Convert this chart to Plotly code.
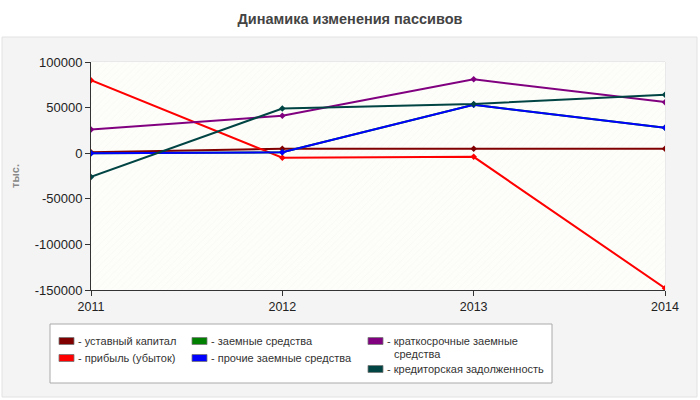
import plotly.graph_objects as go

years = [2011, 2012, 2013, 2014]

names = [
    "- уставный капитал",
    "- прибыль (убыток)",
    "- заемные средства",
    "- прочие заемные средства",
    "- краткосрочные заемные",
    "- кредиторская задолженность",
]
colors = ["#800000", "#ff0000", "#008000", "#0000ff", "#800080", "#004444"]
wrap_text = "средства"  # second line of "краткосрочные заемные средства"

ustavny = [1000, 5000, 5000, 5000]
pribyl = [80000, -5000, -4000, -148000]
zaemnye = [0, 1000, 53000, 28000]
prochie = [0, 1000, 53000, 28000]
kratkosrochnye = [26000, 41000, 81000, 56000]
kreditorskaya = [-26000, 49000, 54000, 64000]
series = [ustavny, pribyl, zaemnye, prochie, kratkosrochnye, kreditorskaya]

y_ticks = [-150000, -100000, -50000, 0, 50000, 100000]
y_ticktext = ["-150000", "-100000", "-50000", "0", "50000", "100000"]
y_min, y_max = -150000, 100000

W, H = 700, 400
L, R, T, B = 91, 35, 62, 110
PW, PH = W - L - R, H - T - B


def px(x):
    return (x - L) / PW


def py(y):
    return (H - B - y) / PH


fig = go.Figure()

# hatched background of the plot area
fig.add_trace(go.Scatter(
    x=[years[0], years[-1], years[-1], years[0], years[0]],
    y=[y_min, y_min, y_max, y_max, y_min],
    fill="toself", mode="none", hoverinfo="skip", showlegend=False,
    fillcolor="#fdfdf9",
    fillpattern=dict(shape="/", fgcolor="#ececec", bgcolor="#fdfdf9", size=5, solidity=0.12),
))

for name, color, vals in zip(names, colors, series):
    full = name + (" " + wrap_text if name.startswith("- краткосрочные") else "")
    fig.add_trace(go.Scatter(
        x=years, y=vals, mode="lines+markers", name=full, showlegend=False,
        line=dict(color=color, width=2), marker=dict(color=color, size=5, symbol="diamond"),
    ))

shapes = [
    # grey panel
    dict(type="rect", xref="paper", yref="paper", x0=px(2), x1=px(697), y0=py(397), y1=py(37),
         fillcolor="#f4f4f4", line=dict(color="#e2e2e2", width=1), layer="below"),
    # plot area frame
    dict(type="rect", xref="paper", yref="paper", x0=0, x1=1, y0=0, y1=1,
         fillcolor="#fdfdf9", line=dict(color="#dddddd", width=1), layer="below"),
    # legend box
    dict(type="rect", xref="paper", yref="paper", x0=px(50), x1=px(552), y0=py(383), y1=py(324),
         fillcolor="white", line=dict(color="#aaaaaa", width=1), layer="below"),
]
annotations = []
leg_font = dict(size=11, color="#333333")

# manual legend: (swatch left x, row centre y, text left x)
legend_pos = [(59, 341, 76), (59, 358, 76), (192, 341, 209), (192, 358, 209),
              (368, 341, 385), (368, 369, 385)]
for name, color, (sx, sy, tx) in zip(names, colors, legend_pos):
    shapes.append(dict(type="rect", xref="paper", yref="paper",
                       x0=px(sx), x1=px(sx + 15), y0=py(sy + 3.5), y1=py(sy - 3.5),
                       fillcolor=color, line=dict(color="#777777", width=0.8), layer="above"))
    annotations.append(dict(xref="paper", yref="paper", x=px(tx), y=py(sy),
                            xanchor="left", yanchor="middle", text=name, showarrow=False,
                            font=leg_font))
annotations.append(dict(xref="paper", yref="paper", x=px(392), y=py(354),
                        xanchor="left", yanchor="middle", text=wrap_text, showarrow=False,
                        font=leg_font))

fig.update_layout(
    width=W, height=H,
    margin=dict(l=L, r=R, t=T, b=B),
    paper_bgcolor="white",
    plot_bgcolor="#fdfdf9",
    showlegend=False,
    font=dict(family="Liberation Sans, Arial", size=12, color="#222"),
    title=dict(text="<b>Динамика изменения пассивов</b>", x=0.5, xanchor="center",
               y=1 - 19 / H, yanchor="middle", font=dict(size=14.5, color="#444")),
    xaxis=dict(range=[years[0], years[-1]], tickvals=years, showgrid=True, automargin=False,
               gridcolor="#dddddd", griddash="dash", showline=True, linecolor="#333",
               ticks="outside", ticklen=5, tickcolor="#333", zeroline=False,
               tickfont=dict(size=12.5, color="#222")),
    yaxis=dict(range=[y_min, y_max], tickvals=y_ticks, ticktext=y_ticktext, showgrid=True,
               gridcolor="#dddddd", griddash="dash", showline=True, linecolor="#333",
               ticks="outside", automargin=False, ticklen=5, tickcolor="#333", zeroline=False,
               tickfont=dict(size=13, color="#222"),
               title=dict(text="<b>тыс.</b>", font=dict(size=11, color="#888"), standoff=12)),
    shapes=shapes,
    annotations=annotations,
)

fig.write_html("out.html", config={"displayModeBar": False},
               post_script="document.body.style.margin='0';")
